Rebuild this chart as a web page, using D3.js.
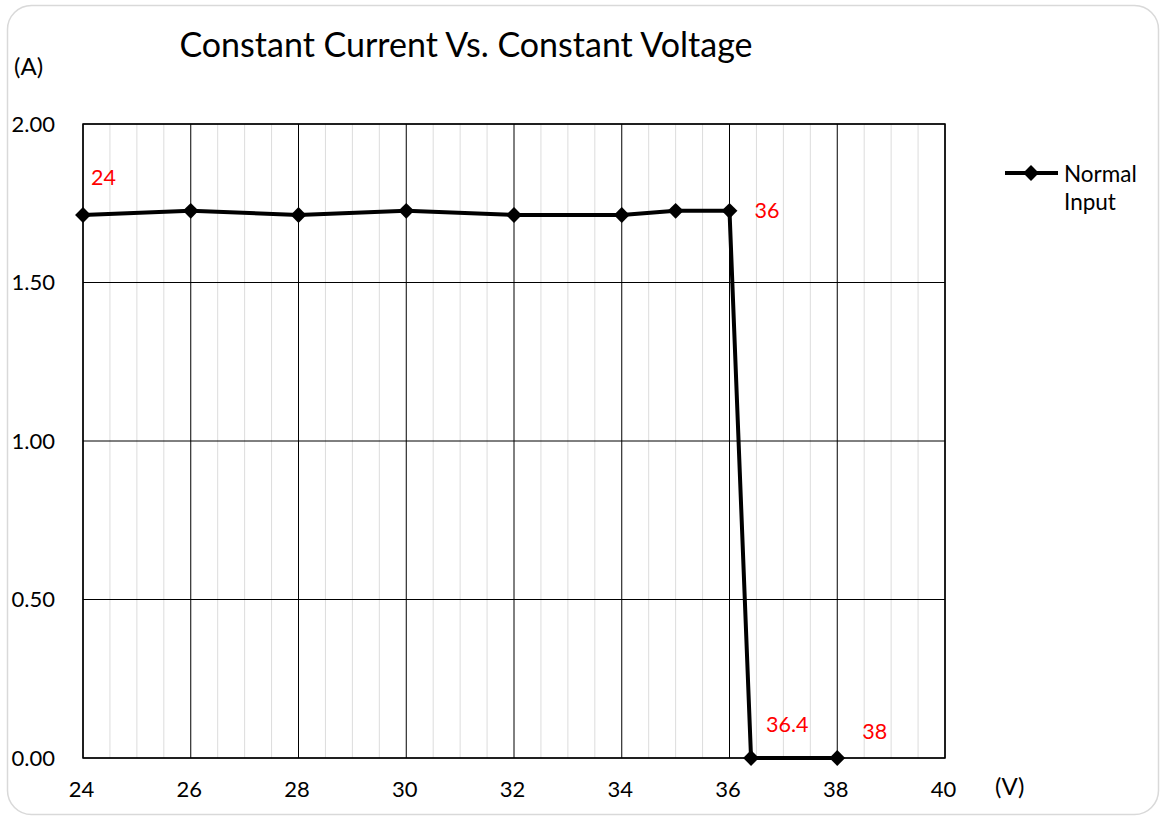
<!DOCTYPE html>
<html>
<head>
<meta charset="utf-8">
<script src="https://cdn.jsdelivr.net/npm/d3@7"></script>
<style>
	body { margin: 0; background: #fff; }
	svg text { font-family: Lato, "Open Sans", sans-serif; }
</style>
</head>
<body>
<svg id="chart" width="1164" height="820"></svg>
<script>
// voltage (V) and current (A)
var voltage = [24, 26, 28, 30, 32, 34, 35, 36, 36.4, 38];
var current = [1.713, 1.726, 1.713, 1.726, 1.713, 1.713, 1.726, 1.726, 0, 0];
var xTicks = [24, 26, 28, 30, 32, 34, 36, 38, 40];
var yTicks = [0, 0.5, 1.0, 1.5, 2.0];
var pointLabels = [
	{v: 24, text: "24", dx: 8, dy: -30},
	{v: 36, text: "36", dx: 25, dy: 7},
	{v: 36.4, text: "36.4", dx: 15, dy: -26},
	{v: 38, text: "38", dx: 25, dy: -19}
];

var svg = d3.select("#chart");

// outer frame
svg.append("rect")
	.attr("x", 7.5).attr("y", 5.5)
	.attr("width", 1151).attr("height", 809)
	.attr("rx", 24)
	.attr("fill", "#fff")
	.attr("stroke", "#d9d9d9")
	.attr("stroke-width", 1.5);

var plot = {left: 83, right: 945, top: 124, bottom: 758};

var x = d3.scaleLinear().domain([24, 40]).range([plot.left, plot.right]);
var y = d3.scaleLinear().domain([0, 2]).range([plot.bottom, plot.top]);

// minor vertical gridlines every 0.5 V
var minor = d3.range(24.5, 40, 0.5).filter(function (d) { return d % 2 !== 0; });
svg.append("g").selectAll("line").data(minor).join("line")
	.attr("x1", function (d) { return x(d); })
	.attr("x2", function (d) { return x(d); })
	.attr("y1", plot.top).attr("y2", plot.bottom)
	.attr("stroke", "#dcdcdc").attr("stroke-width", 1);

// major gridlines
svg.append("g").selectAll("line").data(xTicks).join("line")
	.attr("x1", function (d) { return x(d); })
	.attr("x2", function (d) { return x(d); })
	.attr("y1", plot.top).attr("y2", plot.bottom)
	.attr("stroke", "#000").attr("stroke-width", 1);

svg.append("g").selectAll("line").data(yTicks).join("line")
	.attr("x1", plot.left).attr("x2", plot.right)
	.attr("y1", function (d) { return y(d); })
	.attr("y2", function (d) { return y(d); })
	.attr("stroke", "#000").attr("stroke-width", 1);

// plot border
svg.append("rect")
	.attr("x", plot.left).attr("y", plot.top)
	.attr("width", plot.right - plot.left).attr("height", plot.bottom - plot.top)
	.attr("fill", "none").attr("stroke", "#000").attr("stroke-width", 1.5);

// axes labels
var xAxis = d3.axisBottom(x).tickValues(xTicks).tickSize(0).tickPadding(23)
	.tickFormat(d3.format("d"));
var gx = svg.append("g").attr("transform", "translate(-2," + plot.bottom + ")").call(xAxis);
gx.select(".domain").remove();
gx.selectAll("text").attr("font-size", "22px").attr("fill", "#000")
	.style("font-family", "Lato, 'Open Sans', sans-serif");

var yAxis = d3.axisLeft(y).tickValues(yTicks).tickSize(0).tickPadding(28)
	.tickFormat(d3.format(".2f"));
var gy = svg.append("g").attr("transform", "translate(" + plot.left + ",0)").call(yAxis);
gy.select(".domain").remove();
gy.selectAll("text").attr("font-size", "22px").attr("fill", "#000")
	.style("font-family", "Lato, 'Open Sans', sans-serif");

// data line
var data = voltage.map(function (v, i) { return {v: v, a: current[i]}; });
var line = d3.line()
	.x(function (d) { return x(d.v); })
	.y(function (d) { return y(d.a); });

svg.append("path")
	.datum(data)
	.attr("d", line)
	.attr("fill", "none")
	.attr("stroke", "#000")
	.attr("stroke-width", 4)
	.attr("stroke-linejoin", "round");

var diamond = d3.symbol().type(d3.symbolDiamond2).size(160);
svg.append("g").selectAll("path").data(data).join("path")
	.attr("transform", function (d) { return "translate(" + x(d.v) + "," + y(d.a) + ")"; })
	.attr("d", diamond)
	.attr("fill", "#000");

// red data labels
svg.append("g").selectAll("text").data(pointLabels).join("text")
	.attr("x", function (d) { return x(d.v) + d.dx; })
	.attr("y", function (d) { return y(current[voltage.indexOf(d.v)]) + d.dy; })
	.attr("font-size", "21.5px")
	.attr("fill", "#ff0000")
	.text(function (d) { return d.text; });

// title and units
svg.append("text")
	.attr("x", 466).attr("y", 57)
	.attr("text-anchor", "middle")
	.attr("font-size", "34px")
	.attr("fill", "#000")
	.text("Constant Current Vs. Constant Voltage");

svg.append("text")
	.attr("x", 14).attr("y", 75)
	.attr("font-size", "24px")
	.text("(A)");

svg.append("text")
	.attr("x", 995).attr("y", 795)
	.attr("font-size", "24px")
	.text("(V)");

// legend
var lg = svg.append("g").attr("transform", "translate(1005,173)");
lg.append("line").attr("x1", 0).attr("x2", 53).attr("y1", 0).attr("y2", 0)
	.attr("stroke", "#000").attr("stroke-width", 4);
lg.append("path").attr("transform", "translate(26,0)").attr("d", diamond).attr("fill", "#000");
lg.append("text").attr("x", 59).attr("y", 9).attr("font-size", "22.5px").text("Normal");
lg.append("text").attr("x", 59).attr("y", 37).attr("font-size", "22.5px").text("Input");
</script>
</body>
</html>
